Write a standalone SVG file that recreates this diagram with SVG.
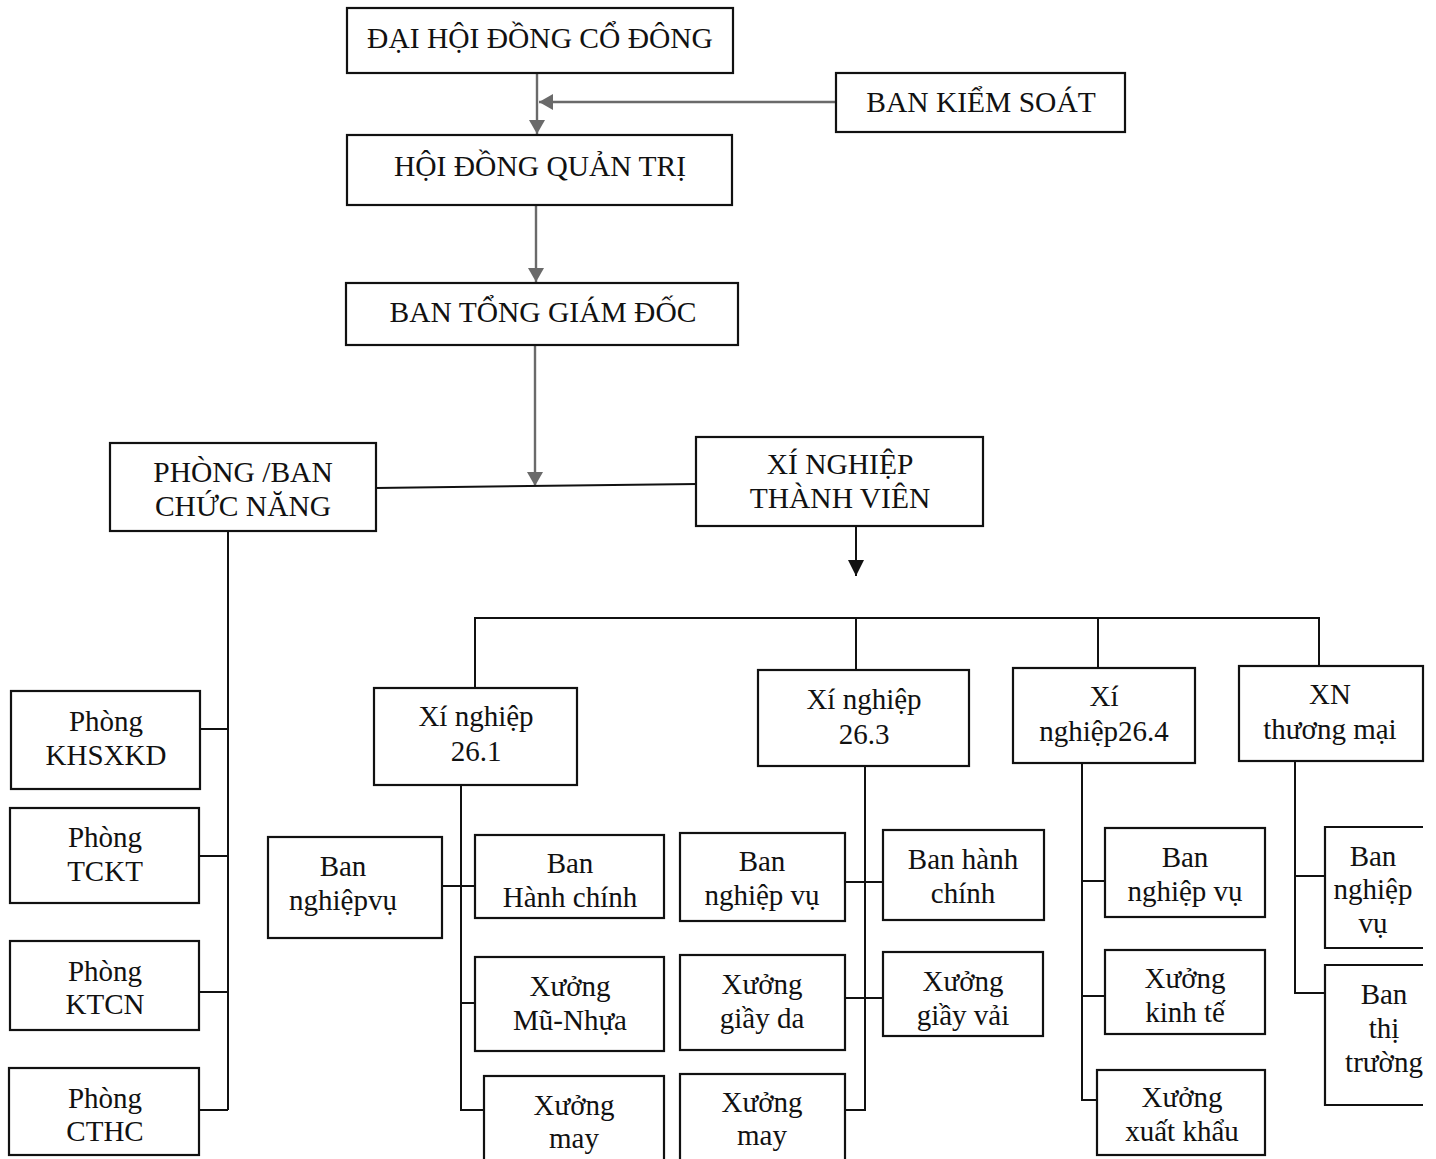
<svg xmlns="http://www.w3.org/2000/svg" width="1436" height="1159" viewBox="0 0 1436 1159">
<defs>
<style>
.box{fill:#fff;stroke:#111;stroke-width:2.2}
.open{fill:none;stroke:#111;stroke-width:2.2}
.t{font-family:"Liberation Serif","Times New Roman",serif;font-size:29px;fill:#111;text-anchor:middle}
.c{font-size:29.5px}
.g{stroke:#6a6a6a;stroke-width:2.4;fill:none}
.k{stroke:#111;stroke-width:2;fill:none}
</style>
<marker id="ag" viewBox="0 0 14 16" refX="14" refY="8" markerWidth="14" markerHeight="16" markerUnits="userSpaceOnUse" orient="auto"><path d="M0,0 L14,8 L0,16 z" fill="#6a6a6a"/></marker>
<marker id="ak" viewBox="0 0 16 16" refX="16" refY="8" markerWidth="16" markerHeight="16" markerUnits="userSpaceOnUse" orient="auto"><path d="M0,0 L16,8 L0,16 z" fill="#111"/></marker>
</defs>
<rect width="1436" height="1159" fill="#fff"/>

<g id="connectors">
<line class="g" x1="537" y1="73" x2="537" y2="134" marker-end="url(#ag)"/>
<line class="g" x1="836" y1="102" x2="539" y2="102" marker-end="url(#ag)"/>
<line class="g" x1="536" y1="205" x2="536" y2="282" marker-end="url(#ag)"/>
<line class="g" x1="535" y1="345" x2="535" y2="486" marker-end="url(#ag)"/>
<line class="k" x1="376" y1="488" x2="697" y2="484"/>
<line class="k" x1="856" y1="526" x2="856" y2="576" marker-end="url(#ak)"/>
<path class="k" d="M475,688 V618 H1319 V666 M856,618 V670 M1098,618 V668"/>
<path class="k" d="M228,531 V1110 M200,729 H228 M199,856 H228 M199,992 H228 M199,1110 H228"/>
<path class="k" d="M461,785 V1110 H484 M442,886 H475 M461,1003 H475"/>
<path class="k" d="M865,766 V1110 H845 M845,882 H883 M845,998 H883"/>
<path class="k" d="M1082,763 V1100 H1097 M1082,881 H1105 M1082,996 H1105"/>
<path class="k" d="M1295,761 V993 H1325 M1295,876 H1325"/>
</g>

<g id="n-dhdcd"><rect class="box" x="347" y="8" width="386" height="65"/><text class="t c" x="540" y="48">ĐẠI HỘI ĐỒNG CỔ ĐÔNG</text></g>
<g id="n-bks"><rect class="box" x="836" y="73" width="289" height="59"/><text class="t c" x="981" y="112">BAN KIỂM SOÁT</text></g>
<g id="n-hdqt"><rect class="box" x="347" y="135" width="385" height="70"/><text class="t c" x="540" y="176">HỘI ĐỒNG QUẢN TRỊ</text></g>
<g id="n-btgd"><rect class="box" x="346" y="283" width="392" height="62"/><text class="t c" x="543" y="322">BAN TỔNG GIÁM ĐỐC</text></g>
<g id="n-pbcn"><rect class="box" x="110" y="443" width="266" height="88"/><text class="t c" x="243" y="482">PHÒNG /BAN</text><text class="t c" x="243" y="516">CHỨC NĂNG</text></g>
<g id="n-xntv"><rect class="box" x="696" y="437" width="287" height="89"/><text class="t c" x="840" y="474">XÍ NGHIỆP</text><text class="t c" x="840" y="508">THÀNH VIÊN</text></g>

<g id="n-xn261"><rect class="box" x="374" y="688" width="203" height="97"/><text class="t" x="476" y="726">Xí nghiệp</text><text class="t" x="476" y="761">26.1</text></g>
<g id="n-xn263"><rect class="box" x="758" y="670" width="211" height="96"/><text class="t" x="864" y="709">Xí nghiệp</text><text class="t" x="864" y="744">26.3</text></g>
<g id="n-xn264"><rect class="box" x="1013" y="668" width="182" height="95"/><text class="t" x="1104" y="706">Xí</text><text class="t" x="1104" y="741">nghiệp26.4</text></g>
<g id="n-xntm"><rect class="box" x="1239" y="666" width="184" height="95"/><text class="t" x="1330" y="704">XN</text><text class="t" x="1330" y="739">thương mại</text></g>

<g id="n-khsxkd"><rect class="box" x="11" y="691" width="189" height="98"/><text class="t" x="106" y="731">Phòng</text><text class="t" x="106" y="765">KHSXKD</text></g>
<g id="n-tckt"><rect class="box" x="10" y="808" width="189" height="95"/><text class="t" x="105" y="847">Phòng</text><text class="t" x="105" y="881">TCKT</text></g>
<g id="n-ktcn"><rect class="box" x="10" y="941" width="189" height="89"/><text class="t" x="105" y="981">Phòng</text><text class="t" x="105" y="1014">KTCN</text></g>
<g id="n-cthc"><rect class="box" x="9" y="1068" width="190" height="87"/><text class="t" x="105" y="1108">Phòng</text><text class="t" x="105" y="1141">CTHC</text></g>

<g id="n-bnv261"><rect class="box" x="268" y="837" width="174" height="101"/><text class="t" x="343" y="876">Ban</text><text class="t" x="343" y="910">nghiệpvụ</text></g>
<g id="n-bhc261"><rect class="box" x="475" y="835" width="189" height="83"/><text class="t" x="570" y="873">Ban</text><text class="t" x="570" y="907">Hành chính</text></g>
<g id="n-xmn"><rect class="box" x="475" y="957" width="189" height="94"/><text class="t" x="570" y="996">Xưởng</text><text class="t" x="570" y="1030">Mũ-Nhựa</text></g>
<g id="n-xm261"><rect class="box" x="484" y="1076" width="180" height="90"/><text class="t" x="574" y="1115">Xưởng</text><text class="t" x="574" y="1148">may</text></g>

<g id="n-bnv263"><rect class="box" x="680" y="833" width="165" height="88"/><text class="t" x="762" y="871">Ban</text><text class="t" x="762" y="905">nghiệp vụ</text></g>
<g id="n-bhc263"><rect class="box" x="883" y="830" width="161" height="90"/><text class="t" x="963" y="869">Ban hành</text><text class="t" x="963" y="903">chính</text></g>
<g id="n-xgd"><rect class="box" x="680" y="955" width="165" height="95"/><text class="t" x="762" y="994">Xưởng</text><text class="t" x="762" y="1028">giầy da</text></g>
<g id="n-xgv"><rect class="box" x="883" y="952" width="160" height="84"/><text class="t" x="963" y="991">Xưởng</text><text class="t" x="963" y="1025">giầy vải</text></g>
<g id="n-xm263"><rect class="box" x="680" y="1074" width="165" height="92"/><text class="t" x="762" y="1112">Xưởng</text><text class="t" x="762" y="1145">may</text></g>

<g id="n-bnv264"><rect class="box" x="1105" y="828" width="160" height="89"/><text class="t" x="1185" y="867">Ban</text><text class="t" x="1185" y="901">nghiệp vụ</text></g>
<g id="n-xkt"><rect class="box" x="1105" y="950" width="160" height="84"/><text class="t" x="1185" y="988">Xưởng</text><text class="t" x="1185" y="1022">kinh tế</text></g>
<g id="n-xxk"><rect class="box" x="1097" y="1070" width="168" height="85"/><text class="t" x="1182" y="1107">Xưởng</text><text class="t" x="1182" y="1141">xuất khẩu</text></g>

<g id="n-bnvtm"><path class="open" d="M1423,827 H1325 V948 H1423"/><text class="t" x="1373" y="866">Ban</text><text class="t" x="1373" y="899">nghiệp</text><text class="t" x="1373" y="933">vụ</text></g>
<g id="n-bttm"><path class="open" d="M1423,965 H1325 V1105 H1423"/><text class="t" x="1384" y="1004">Ban</text><text class="t" x="1384" y="1038">thị</text><text class="t" x="1384" y="1072">trường</text></g>
</svg>
